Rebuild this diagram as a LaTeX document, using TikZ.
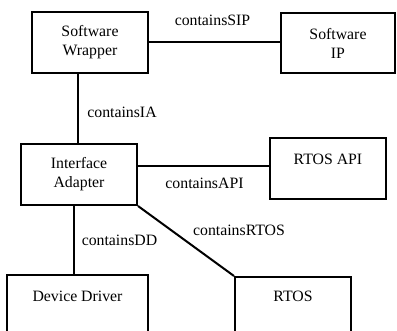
\documentclass[tikz,border=0pt]{standalone}
\usepackage{fontspec}
\setmainfont{Liberation Serif}
\begin{document}
\begin{tikzpicture}[x=1pt,y=-1pt,
  every node/.style={font=\fontsize{15.8}{19}\selectfont},
  box/.style={draw, line width=2pt, inner sep=0pt, align=center},
  link/.style={line width=2pt},
  rel/.style={inner sep=1pt}]
\clip (0,0) rectangle (397,331);
% component boxes
\node[box, minimum width=116, minimum height=61] (sw)  at (90,42.5)  {Software\\Wrapper};
\node[box, minimum width=114, minimum height=60] (sip) at (338,43)   {Software\\IP};
\node[box, minimum width=116, minimum height=61] (ia)  at (79,174.5) {Interface\\Adapter};
\node[box, minimum width=116, minimum height=61] (api) at (328,168.5) {};
\node[box, minimum width=141, minimum height=80] (dd)  at (77.5,315) {};
\node[box, minimum width=116, minimum height=80] (rt)  at (293,317)  {};
% top-aligned titles
\node (apit) at (328,159) {RTOS API};
\node (ddt)  at (77.5,296) {Device Driver};
\node (rtt)  at (293,296) {RTOS};
% relations
\draw[link] (sw.east |- 0,42) -- (sip.west |- 0,42);
\draw[link] (sw.south -| 78,0) -- (ia.north -| 78,0);
\draw[link] (ia.east |- 0,166) -- (api.west |- 0,166);
\draw[link] (ia.south -| 74,0) -- (dd.north -| 74,0);
\draw[link] (ia.south east) -- (rt.north west);
% relation labels
\node[rel] (l1) at (212.5,20)  {containsSIP};
\node[rel] (l2) at (122,112)   {containsIA};
\node[rel] (l3) at (204.5,183) {containsAPI};
\node[rel] (l4) at (119.5,240) {containsDD};
\node[rel, fill=white] (l5) at (239,230) {containsRTOS};
\end{tikzpicture}
\end{document}
